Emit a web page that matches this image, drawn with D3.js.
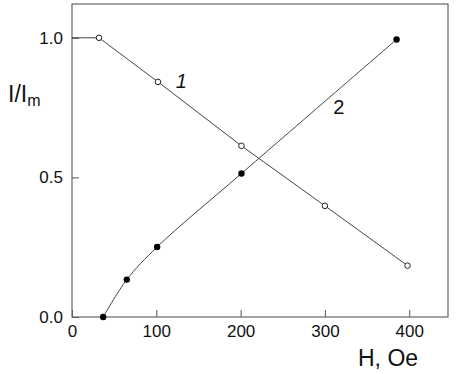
<!DOCTYPE html>
<html>
<head>
<meta charset="utf-8">
<script src="https://cdn.jsdelivr.net/npm/d3@7"></script>
<style>
  body { margin: 0; background: #fff; }
  text { font-family: Arial, "Liberation Sans", sans-serif; fill: #111; }
</style>
</head>
<body>
<svg id="plot"></svg>
<script>
// curve 1 (open circles)
const h1 = [32, 102, 201, 300, 398];
const v1 = [1.0, 0.842, 0.613, 0.398, 0.184];
const start1 = [0, 1.0]; // flat part from H = 0
// curve 2 (filled circles)
const h2 = [37, 65, 101, 201, 385];
const v2 = [0.0, 0.134, 0.251, 0.514, 0.994];

const xTicks = [0, 100, 200, 300, 400];
const yTicks = [0.0, 0.5, 1.0];
const curveLabels = [
  { text: "1", h: 123, v: 0.82, italic: true },
  { text: "2", h: 310, v: 0.727, italic: false },
];

const W = 459, H = 374;
const margin = { top: 4, right: 11, bottom: 57, left: 72 };
const width = W - margin.left - margin.right;
const height = H - margin.top - margin.bottom;

const root = d3.select("#plot").attr("width", W).attr("height", H);
const svg = root.append("g")
  .attr("transform", `translate(${margin.left},${margin.top})`);

const x = d3.scaleLinear().domain([0, 446]).range([0, width]);
const y = d3.scaleLinear().domain([0, 1.121]).range([height, 0]);

// axes with inward ticks
const xAxis = svg.append("g")
  .attr("transform", `translate(0,${height})`)
  .call(d3.axisBottom(x).tickValues(xTicks).tickFormat(d3.format("d"))
    .tickSizeInner(-7).tickSizeOuter(0).tickPadding(8));
const yAxis = svg.append("g")
  .call(d3.axisLeft(y).tickValues(yTicks).tickFormat(d3.format(".1f"))
    .tickSizeInner(-7).tickSizeOuter(0).tickPadding(9));

[xAxis, yAxis].forEach((g) => {
  g.select(".domain").remove();
  g.selectAll(".tick line").attr("stroke", "#555");
  g.selectAll(".tick text").style("font-size", "17px").attr("fill", "#111");
});

// frame
svg.append("rect")
  .attr("width", width).attr("height", height)
  .attr("fill", "none").attr("stroke", "#666").attr("stroke-width", 1.2);

// curve 1
const pts1 = [start1].concat(h1.map((d, i) => [d, v1[i]]));
svg.append("path")
  .datum(pts1)
  .attr("fill", "none").attr("stroke", "#444").attr("stroke-width", 1)
  .attr("d", d3.line().x((d) => x(d[0])).y((d) => y(d[1])));

// curve 2 (smooth)
const pts2 = h2.map((d, i) => [d, v2[i]]);
svg.append("path")
  .datum(pts2)
  .attr("fill", "none").attr("stroke", "#444").attr("stroke-width", 1)
  .attr("d", d3.line().curve(d3.curveCatmullRom.alpha(0.5))
    .x((d) => x(d[0])).y((d) => y(d[1])));

svg.selectAll(".p1")
  .data(h1.map((d, i) => [d, v1[i]]))
  .enter().append("circle")
  .attr("cx", (d) => x(d[0])).attr("cy", (d) => y(d[1]))
  .attr("r", 2.8).attr("fill", "#fff").attr("stroke", "#222").attr("stroke-width", 1);

svg.selectAll(".p2")
  .data(pts2)
  .enter().append("circle")
  .attr("cx", (d) => x(d[0])).attr("cy", (d) => y(d[1]))
  .attr("r", 3.2).attr("fill", "#000");

svg.selectAll(".clabel")
  .data(curveLabels)
  .enter().append("text")
  .attr("x", (d) => x(d.h)).attr("y", (d) => y(d.v))
  .style("font-size", "20px")
  .style("font-style", (d) => (d.italic ? "italic" : "normal"))
  .text((d) => d.text);

// axis titles
const yt = root.append("text").attr("x", 8).attr("y", 102).style("font-size", "23px");
yt.append("tspan").text("I/I");
yt.append("tspan").attr("dy", 4).style("font-size", "16px").text("m");

root.append("text").attr("x", 358).attr("y", 366)
  .style("font-size", "23px").text("H, Oe");
</script>
</body>
</html>
